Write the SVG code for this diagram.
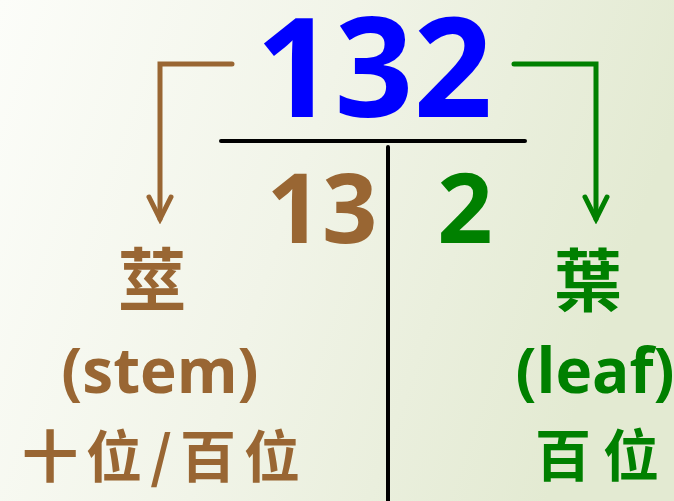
<svg xmlns="http://www.w3.org/2000/svg" width="674" height="501" viewBox="0 0 674 501">
  <defs>
    <linearGradient id="bg" x1="0" y1="0" x2="1" y2="0.25">
      <stop offset="0" stop-color="#fcfdf9"/>
      <stop offset="0.5" stop-color="#f1f4e8"/>
      <stop offset="1" stop-color="#e3ead2"/>
    </linearGradient>
    <marker id="arrBrown" viewBox="-30 -15 35 30" markerWidth="35" markerHeight="30" refX="0" refY="0" orient="auto" markerUnits="userSpaceOnUse">
      <path d="M-22,-11 L0,0 L-22,11" fill="none" stroke="#996633" stroke-width="5" stroke-linecap="round" stroke-linejoin="miter"/>
    </marker>
    <marker id="arrGreen" viewBox="-30 -15 35 30" markerWidth="35" markerHeight="30" refX="0" refY="0" orient="auto" markerUnits="userSpaceOnUse">
      <path d="M-22,-11 L0,0 L-22,11" fill="none" stroke="#008000" stroke-width="5" stroke-linecap="round" stroke-linejoin="miter"/>
    </marker>
  </defs>
  <style>
    .num { font-family: "Open Sans", "Liberation Sans", sans-serif; font-weight: 700; text-anchor: middle; }
    .lat { font-family: "Open Sans", "Liberation Sans", sans-serif; font-weight: 700; font-size: 62px; text-anchor: middle; }
    .cjk { font-family: "Noto Sans CJK TC", "Noto Sans CJK SC", sans-serif; font-weight: 600; text-anchor: middle; }
    .brown { fill: #996633; }
    .green { fill: #008000; }
    .blue { fill: #0000ff; }
    .rule { stroke: #000; stroke-width: 4; stroke-linecap: round; fill: none; }
  </style>
  <rect x="0" y="0" width="674" height="501" fill="url(#bg)"/>

  <g id="number">
    <text class="num blue" x="374" y="117" font-size="138">132</text>
  </g>

  <g id="split-lines">
    <path class="rule" d="M221,141 H525"/>
    <path class="rule" d="M388,147 V503"/>
  </g>

  <g id="stem-digits">
    <text class="num brown" x="322" y="243" font-size="97">13</text>
  </g>
  <g id="leaf-digits">
    <text class="num green" x="465" y="243" font-size="97">2</text>
  </g>

  <g id="stem-label">
    <text class="cjk brown" x="152" y="305" font-size="68">莖</text>
    <text class="lat brown" x="160" y="393">(stem)</text>
    <text class="cjk brown" x="161" y="477" font-size="56" textLength="278" lengthAdjust="spacing">十位/百位</text>
  </g>

  <g id="leaf-label">
    <text class="cjk green" x="588" y="306" font-size="68">葉</text>
    <text class="lat green" x="595" y="393">(leaf)</text>
    <text class="cjk green" x="597" y="476" font-size="56" textLength="124" lengthAdjust="spacing">百位</text>
  </g>

  <g id="connectors">
    <path d="M232,64 H160 V219" fill="none" stroke="#996633" stroke-width="5" stroke-linecap="round" stroke-linejoin="miter" marker-end="url(#arrBrown)"/>
    <path d="M514,64 H596 V219" fill="none" stroke="#008000" stroke-width="5" stroke-linecap="round" stroke-linejoin="miter" marker-end="url(#arrGreen)"/>
  </g>
</svg>
